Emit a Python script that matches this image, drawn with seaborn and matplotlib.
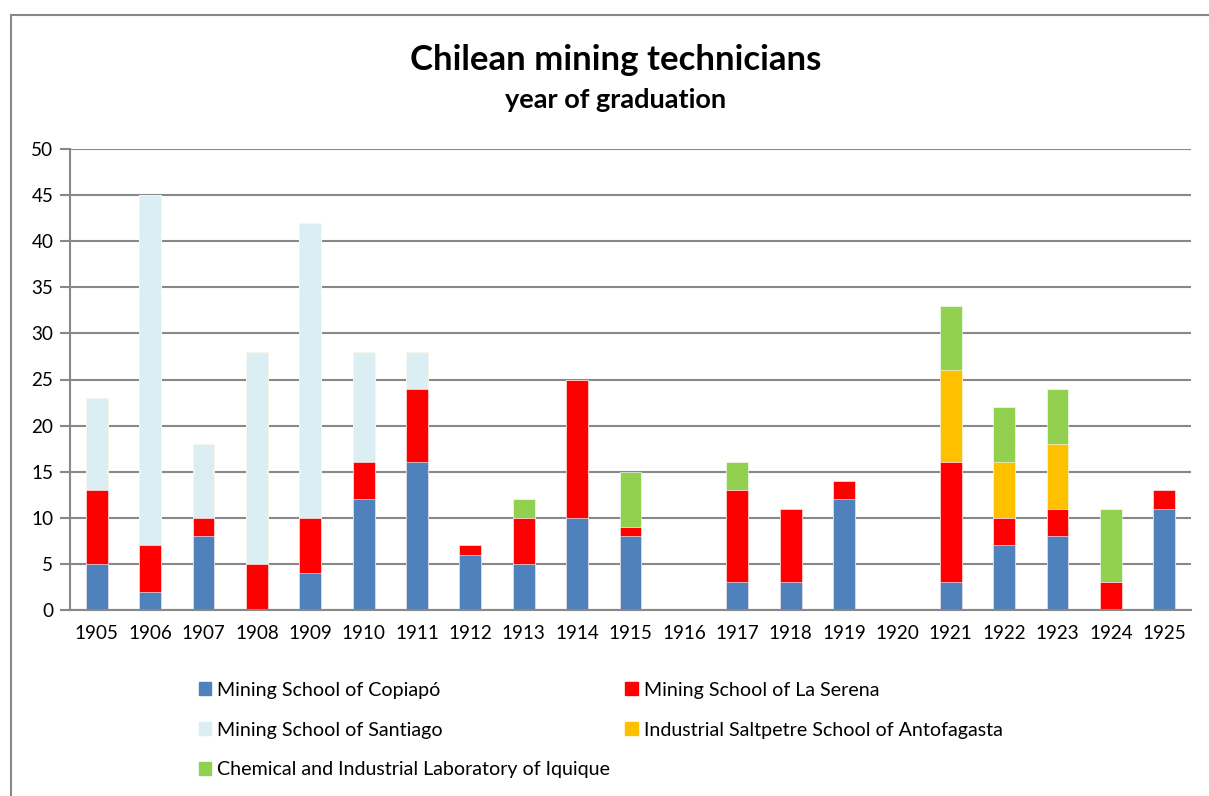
import matplotlib.pyplot as plt
import matplotlib.patches as mpatches
import numpy as np
import pandas as pd
import seaborn as sns

sns.set_theme(style="white")
plt.rcParams["font.family"] = ["Lato", "DejaVu Sans"]
plt.rcParams["text.color"] = "black"
plt.rcParams["xtick.color"] = "black"
plt.rcParams["ytick.color"] = "black"

years = [str(y) for y in range(1905, 1926)]
copiapo = [5, 2, 8, 0, 4, 12, 16, 6, 5, 10, 8, 0, 3, 3, 12, 0, 3, 7, 8, 0, 11]
la_serena = [8, 5, 2, 5, 6, 4, 8, 1, 5, 15, 1, 0, 10, 8, 2, 0, 13, 3, 3, 3, 2]
santiago = [10, 38, 8, 23, 32, 12, 4, 0, 0, 0, 0, 0, 0, 0, 0, 0, 0, 0, 0, 0, 0]
antofagasta = [0, 0, 0, 0, 0, 0, 0, 0, 0, 0, 0, 0, 0, 0, 0, 0, 10, 6, 7, 0, 0]
iquique = [0, 0, 0, 0, 0, 0, 0, 0, 2, 0, 6, 0, 3, 0, 0, 0, 7, 6, 6, 8, 0]

series = [
    ("Mining School of Copiapó", copiapo, "#4F81BD"),
    ("Mining School of La Serena", la_serena, "#FF0000"),
    ("Mining School of Santiago", santiago, "#DAEEF3"),
    ("Industrial Saltpetre School of Antofagasta", antofagasta, "#FFC000"),
    ("Chemical and Industrial Laboratory of Iquique", iquique, "#92D050"),
]

df = pd.DataFrame({name: vals for name, vals, _ in series}, index=years)
cum = df.cumsum(axis=1)

fig = plt.figure(figsize=(12.09, 7.96), dpi=100)
ax = fig.add_axes([70 / 1209, 1 - 610 / 796, 1121 / 1209, 461 / 796])

# draw cumulative totals from top down so each stack segment shows
for name, _, color in reversed(series):
    sns.barplot(x=years, y=cum[name].values, color=color, width=0.41,
                ax=ax, saturation=1, edgecolor="white", linewidth=0.4, legend=False)

ax.set_xlim(-0.5, len(years) - 0.5)
ax.set_ylim(0, 50)
ax.set_yticks(np.arange(0, 51, 5))
ax.yaxis.grid(True, color="#888888", linewidth=1.5)
ax.set_axisbelow(True)
for side in ["top", "right"]:
    ax.spines[side].set_visible(False)
for side in ["left", "bottom"]:
    ax.spines[side].set_color("#888888")
    ax.spines[side].set_linewidth(1.5)

ax.set_xticks(np.arange(len(years)))
ax.set_xticklabels(years)
ax.set_xticks(np.arange(-0.5, len(years)), minor=True)
ax.tick_params(axis="x", which="major", length=0, pad=11, labelsize=13.6)
ax.tick_params(axis="x", which="minor", length=6, width=1.5, color="#888888", direction="out")
ax.tick_params(axis="y", length=7, width=1.5, color="#888888", direction="out",
               labelsize=13.6, left=True, pad=5)
ax.set_xlabel("")
ax.set_ylabel("")

fig.text(616 / 1209, 1 - 60 / 796, "Chilean mining technicians", ha="center", va="center",
         fontsize=25, fontweight="bold")
fig.text(616 / 1209, 1 - 100 / 796, "year of graduation", ha="center", va="center",
         fontsize=19.5, fontweight="bold")

order = [0, 2, 4, 1, 3]
names = [series[i][0] for i in order]
leg_handles = [mpatches.Patch(color=series[i][2]) for i in order]
fig.legend(leg_handles, names, loc="upper left", bbox_to_anchor=(181 / 1209, 1 - 664 / 796),
           ncol=2, frameon=False, fontsize=14.1, handlelength=0.65, handleheight=0.65,
           handletextpad=0.3, labelspacing=1.17, columnspacing=0.75)

border = mpatches.Rectangle((11 / 1209, -0.1), 1.2, 1 - 15 / 796 + 0.1,
                            transform=fig.transFigure, fill=False,
                            edgecolor="#888888", linewidth=1.5)
fig.patches.append(border)

fig.savefig("out.png", dpi=100)
